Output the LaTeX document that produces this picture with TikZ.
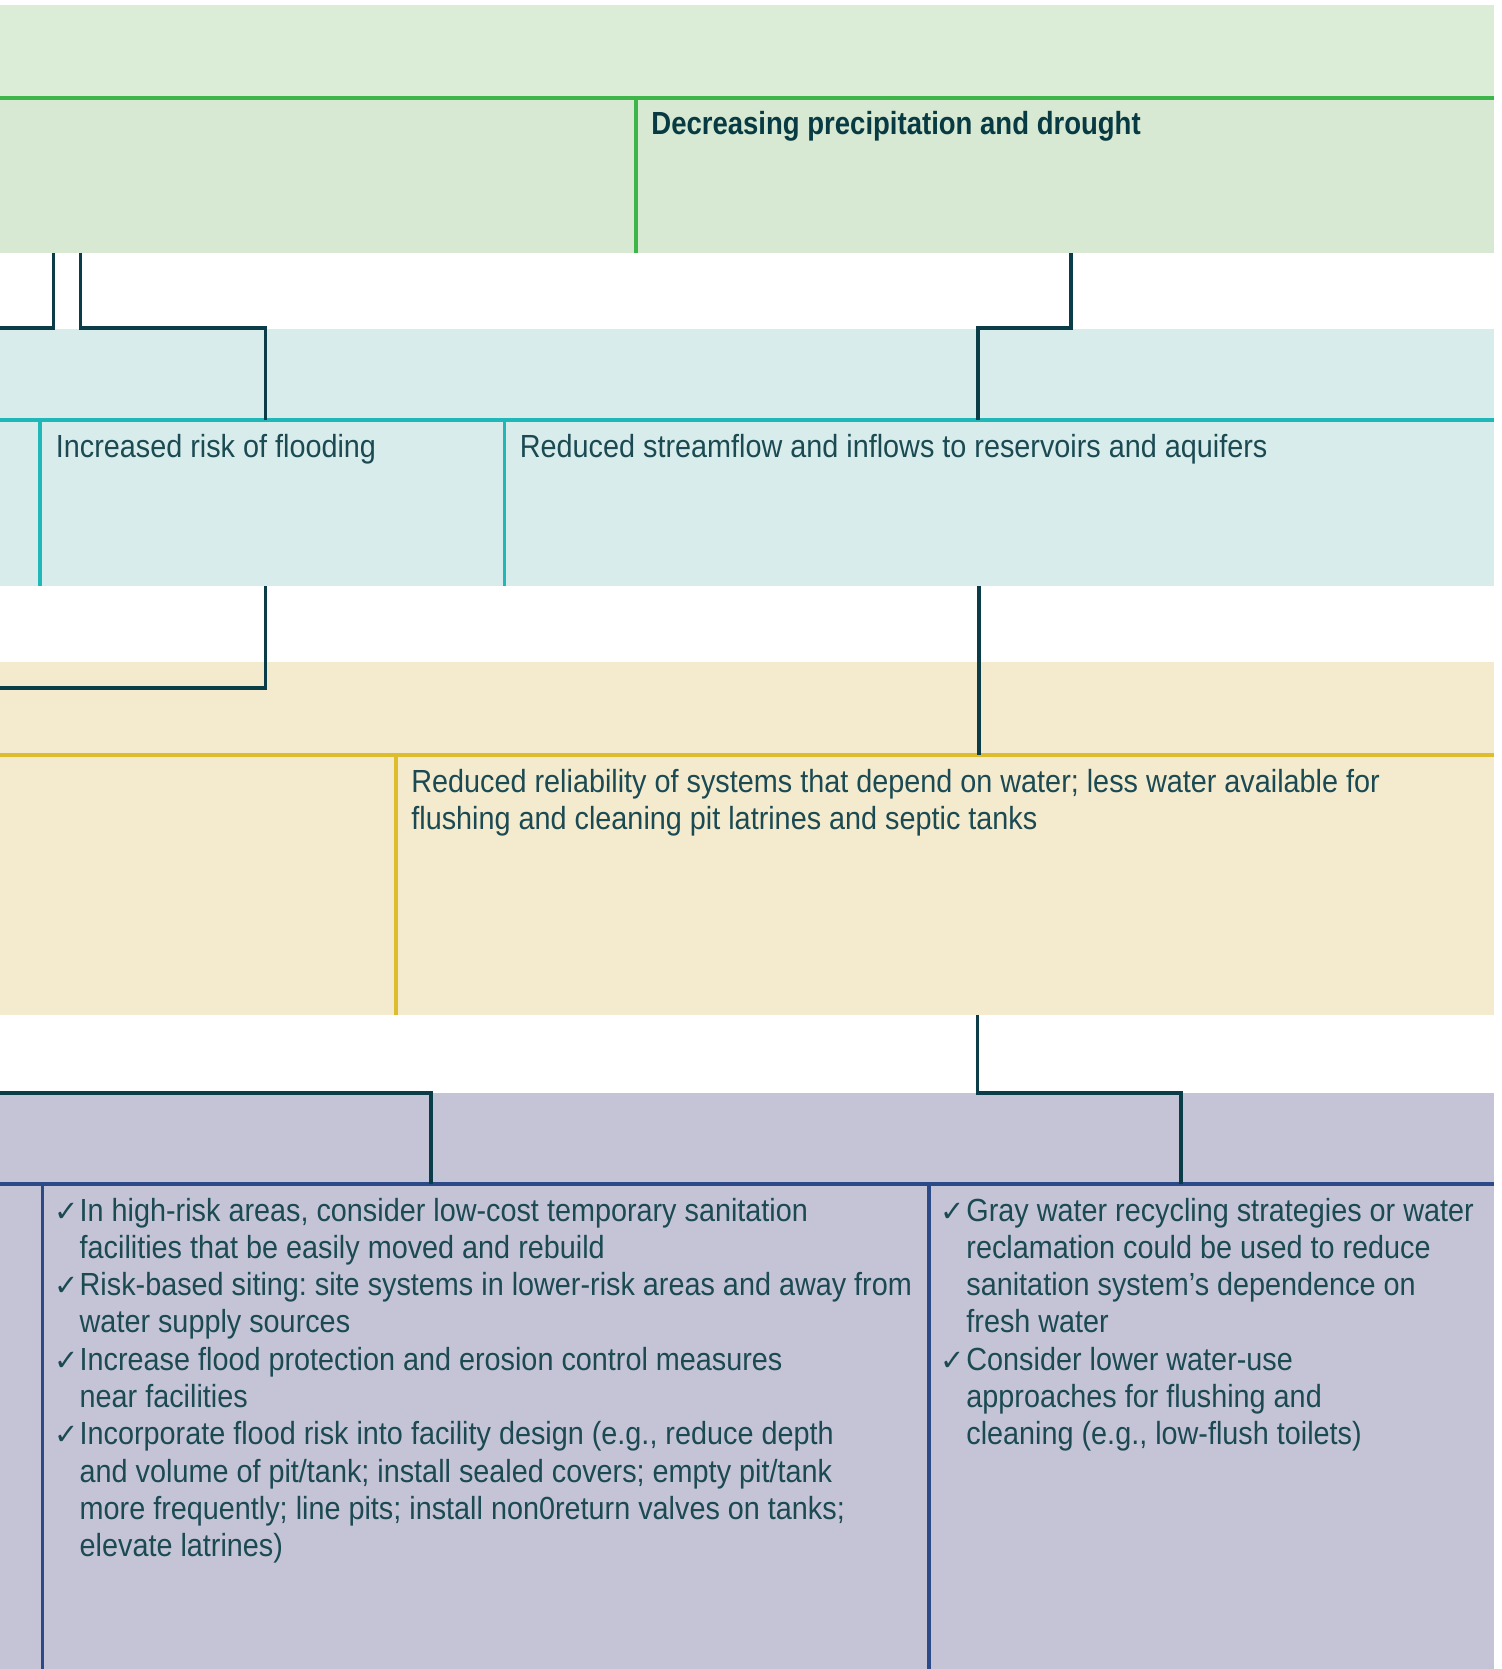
\documentclass[tikz,border=0pt]{standalone}
\usepackage{fontspec}
\setmainfont{Liberation Sans}[FakeStretch=0.9]
\newfontfamily\headfont{Liberation Sans}[FakeStretch=0.86]
\newfontfamily\symfont{DejaVu Sans}
\usetikzlibrary{positioning,calc}
\frenchspacing

\definecolor{greenTop}{HTML}{DBEDD6}
\definecolor{greenBot}{HTML}{D7E9D2}
\definecolor{greenLine}{HTML}{3EB549}
\definecolor{tealFill}{HTML}{D8EDEB}
\definecolor{tealLine}{HTML}{1FB7B8}
\definecolor{tanFill}{HTML}{F4EBCF}
\definecolor{tanLine}{HTML}{DDBD2E}
\definecolor{purpFill}{HTML}{C5C4D7}
\definecolor{purpLine}{HTML}{2C4A87}
\definecolor{connCol}{HTML}{0B3D48}
\definecolor{txtCol}{HTML}{1B4A53}
\definecolor{headCol}{HTML}{073A43}

\newcommand{\chk}{\llap{{\symfont\fontsize{14.5}{14.5}\selectfont ✓}\hspace{0.6pt}}}

\tikzset{
sepline/.style={line width=1.65pt},
divline/.style={line width=1.55pt},
conn/.style={draw=connCol, line width=1.55pt},
% text nodes are placed at the baseline of their last line
celltext/.style={anchor=base west, inner sep=0pt, align=left, text=txtCol,
                 font=\fontsize{16}{18.65}\selectfont},
headtext/.style={anchor=base west, inner sep=0pt, text=headCol,
                 font=\headfont\bfseries\fontsize{16}{18.65}\selectfont}
}

\begin{document}
\begin{tikzpicture}[x=0.5pt, y=-0.5pt]
\useasboundingbox (0,0) rectangle (1501,1669);

%Bands
\fill[greenTop] (0,5.3) rectangle (1494,98);
\fill[greenBot] (0,98) rectangle (1494,253);
\fill[tealFill] (0,329) rectangle (1494,586);
\fill[tanFill] (0,662) rectangle (1494,1015);
\fill[purpFill] (0,1093) rectangle (1494,1669);

%Row lines
\draw[sepline, greenLine] (0,98) -- (1494,98);
\draw[divline, greenLine] (636,98) -- (636,253);
\draw[sepline, tealLine] (0,420) -- (1494,420);
\draw[divline, tealLine] (40,420) -- (40,586);
\draw[divline, tealLine] (504.5,420) -- (504.5,586);
\draw[sepline, tanLine] (0,755) -- (1494,755);
\draw[divline, tanLine] (396,755) -- (396,1015);
\draw[sepline, purpLine] (0,1184) -- (1494,1184);
\draw[sepline, purpLine] (42.7,1184) -- (42.7,1669);
\draw[sepline, purpLine] (929,1184) -- (929,1669);

%Cell texts
\node[headtext] (drought) at (651,135) {Decreasing precipitation and drought};
\node[celltext] (flood) at (55.5,457) {Increased risk of flooding};
\node[celltext] (stream) at (519.5,457) {Reduced streamflow and inflows to reservoirs and aquifers};
\node[celltext] (reliab) at (411,829.3) {Reduced reliability of systems that depend on water; less water available for\\
flushing and cleaning pit latrines and septic tanks};
\node[celltext] (adflood) at (79.3,1556.7) {\chk In high-risk areas, consider low-cost temporary sanitation\\
facilities that be easily moved and rebuild\\
\chk Risk-based siting: site systems in lower-risk areas and away from\\
water supply sources\\
\chk Increase flood protection and erosion control measures\\
near facilities\\
\chk Incorporate flood risk into facility design (e.g., reduce depth\\
and volume of pit/tank; install sealed covers; empty pit/tank\\
more frequently; line pits; install non0return valves on tanks;\\
elevate latrines)};
\node[celltext] (addrought) at (966,1444.8) {\chk Gray water recycling strategies or water\\
reclamation could be used to reduce\\
sanitation system’s dependence on\\
fresh water\\
\chk Consider lower water-use\\
approaches for flushing and\\
cleaning (e.g., low-flush toilets)};

%Connector ends
\coordinate (gA) at (53.3,253);
\coordinate (gB) at (80.7,253);
\coordinate (gC) at (1071,253);
\coordinate (tA) at (0,328);
\coordinate (tB) at (265.3,420);
\coordinate (tC) at (978,420);
\coordinate (tD) at (265.3,586);
\coordinate (tE) at (979,586);
\coordinate (nA) at (0,688);
\coordinate (nB) at (979,755);
\coordinate (nC) at (977.5,1015);
\coordinate (pA) at (0,1093);
\coordinate (pB) at (431,1184);
\coordinate (pC) at (1181,1184);

%Connectors
\draw[conn] (gA) |- (tA);
\draw[conn] (gB) -- ++(0,75) -| (tB);
\draw[conn] (gC) -- ++(0,75) -| (tC);
\draw[conn] (tD) |- (nA);
\draw[conn] (tE) -- (nB);
\draw[conn] (nC) -- ++(0,78) -| (pC);
\draw[conn] (pA) -| (pB);

\end{tikzpicture}
\end{document}
